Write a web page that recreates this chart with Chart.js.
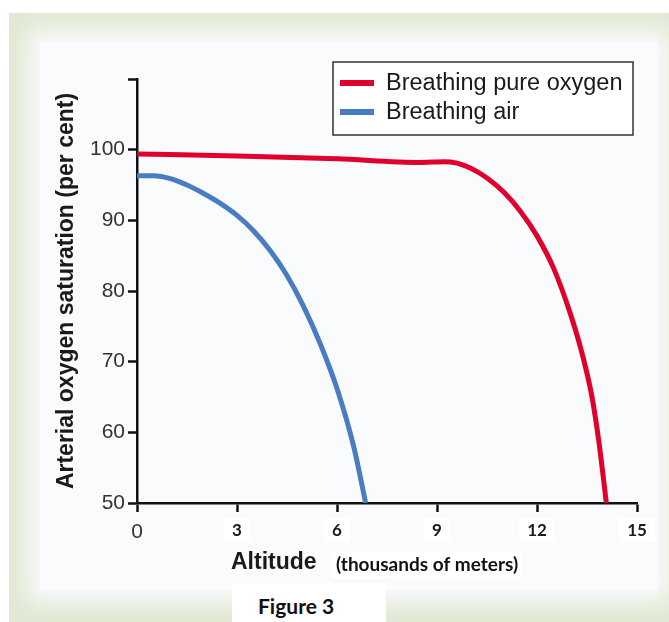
<!DOCTYPE html>
<html>
<head>
<meta charset="utf-8">
<script src="https://cdn.jsdelivr.net/npm/chart.js@4.4.1/dist/chart.umd.min.js"></script>
<style>
  html, body { margin: 0; padding: 0; background: #fff; }
  #wrap { position: relative; width: 669px; height: 622px; overflow: hidden; }
  #frame { position: absolute; left: 9px; top: 13px; right: 0; bottom: 0; background: #e1e8d3; }
  #panel { position: absolute; left: 40px; top: 42px; width: 618px; height: 548px; background: #f9fbfd;
           box-shadow: 0 0 22px 12px #f9fbfd; }
  #caption { position: absolute; left: 232px; top: 583px; width: 128px; height: 39px; padding-left: 26px;
             background: #fff; font: bold 21px Lato, "Open Sans", sans-serif; color: #111; line-height: 45px; }
  canvas { position: absolute; left: 0; top: 0; }
</style>
</head>
<body>
<div id="wrap">
  <div id="frame"></div>
  <div id="panel"></div>
  <div id="caption">Figure 3</div>
  <canvas id="chart" width="669" height="622"></canvas>
</div>
<script>
// values (altitude in thousands of meters, saturation in %)
const oxygenAltitude = [0, 3, 6, 8.5, 9.2, 9.6, 10.0, 10.5, 11.0, 11.5, 12.0, 12.5, 13.0, 13.35, 13.65, 13.85, 14.0, 14.08];
const oxygenSaturation = [99.4, 99.1, 98.7, 98.2, 98.3, 98.1, 97.4, 96.0, 94.0, 91.3, 87.8, 83.2, 76.8, 71.2, 65.0, 58.9, 53.2, 50];
const airAltitude = [0, 0.5, 1.0, 1.5, 2.0, 2.5, 3.0, 3.5, 4.0, 4.5, 5.0, 5.5, 6.0, 6.5, 6.86];
const airSaturation = [96.3, 96.3, 95.9, 95.0, 93.8, 92.4, 90.7, 88.5, 85.7, 82.2, 77.8, 72.5, 66.2, 58.0, 50];

const seriesLabels = ['Breathing pure oxygen', 'Breathing air'];
const xTicks = [0, 3, 6, 9, 12, 15];
const yTicks = [50, 60, 70, 80, 90, 100];

const toPoints = (xs, ys) => xs.map((x, i) => ({ x: x, y: ys[i] }));

// legend box drawn inside the plot like the original
const boxLegend = {
  id: 'boxLegend',
  afterDraw(chart) {
    const ctx = chart.ctx;
    ctx.save();
    ctx.fillStyle = '#fff';
    ctx.fillRect(333, 62, 300, 73);
    ctx.strokeStyle = '#333';
    ctx.lineWidth = 1.5;
    ctx.strokeRect(333, 62, 300, 73);
    ctx.font = '23.5px "Liberation Sans", Arial, sans-serif';
    ctx.textBaseline = 'middle';
    chart.data.datasets.forEach((ds, i) => {
      const y = 83 + i * 29;
      ctx.strokeStyle = ds.borderColor;
      ctx.lineWidth = 6;
      ctx.beginPath();
      ctx.moveTo(340, y);
      ctx.lineTo(374, y);
      ctx.stroke();
      ctx.fillStyle = '#1a1a1a';
      ctx.fillText(ds.label, 386, y + 1);
    });
    ctx.restore();
  }
};

// x title uses two fonts, so it is drawn by hand
const xTitle = {
  id: 'xTitle',
  afterDraw(chart) {
    const ctx = chart.ctx;
    ctx.save();
    ctx.textBaseline = 'middle';
    ctx.fillStyle = '#1a1a1a';
    ctx.font = 'bold 23px "Liberation Sans", Arial, sans-serif';
    ctx.fillText('Altitude', 231, 563);
    ctx.font = 'bold 19px Lato, "Open Sans", sans-serif';
    const w = ctx.measureText('(thousands of meters)').width;
    ctx.fillStyle = '#fff';
    ctx.fillRect(332, 551, w + 8, 28);
    ctx.fillStyle = '#111';
    ctx.fillText('(thousands of meters)', 336, 565);
    ctx.restore();
  }
};

new Chart(document.getElementById('chart'), {
  type: 'line',
  data: {
    datasets: [{
      label: seriesLabels[0],
      data: toPoints(oxygenAltitude, oxygenSaturation),
      borderColor: '#e0002d',
      borderWidth: 5,
      pointRadius: 0,
      cubicInterpolationMode: 'monotone',
      fill: false
    }, {
      label: seriesLabels[1],
      data: toPoints(airAltitude, airSaturation),
      borderColor: '#4a7cc1',
      borderWidth: 5,
      pointRadius: 0,
      cubicInterpolationMode: 'monotone',
      fill: false
    }]
  },
  options: {
    responsive: false,
    animation: false,
    layout: { padding: { left: 0, right: 32, top: 79, bottom: 0 } },
    plugins: {
      legend: { display: false },
      tooltip: { enabled: false }
    },
    scales: {
      x: {
        type: 'linear',
        min: 0,
        max: 15,
        afterFit: (scale) => { scale.height = 119; },
        afterBuildTicks: (scale) => { scale.ticks = xTicks.map(v => ({ value: v })); },
        border: { color: '#111', width: 2.5 },
        grid: { drawOnChartArea: false, drawTicks: true, tickLength: 9, color: '#111', tickWidth: 2.5 },
        ticks: {
          padding: 8,
          maxRotation: 0,
          color: (c) => c.index === 0 ? '#333' : '#1a1a1a',
          font: (c) => c.index === 0
            ? { family: '"Liberation Sans", Arial, sans-serif', size: 21 }
            : { family: 'Lato, "Open Sans", sans-serif', size: 17, weight: 'bold' },
          showLabelBackdrop: (c) => c.index > 0,
          backdropColor: '#fff',
          backdropPadding: { top: 2, bottom: 2, left: 8, right: 8 }
        }
      },
      y: {
        min: 50,
        max: 110,
        afterFit: (scale) => { scale.width = 137; },
        afterBuildTicks: (scale) => { scale.ticks = yTicks.concat([110]).map(v => ({ value: v })); },
        border: { color: '#111', width: 2.5 },
        grid: { drawOnChartArea: false, drawTicks: true, tickLength: 9, color: '#111', tickWidth: 2.5 },
        ticks: {
          padding: 3,
          color: '#333',
          font: { family: '"Liberation Sans", Arial, sans-serif', size: 21 },
          callback: (v) => v > 100 ? '' : v
        },
        title: {
          display: true,
          text: 'Arterial oxygen saturation (per cent)',
          color: '#1a1a1a',
          font: { family: '"Liberation Sans", Arial, sans-serif', size: 23, weight: 'bold' },
          padding: { top: 53, bottom: 0 }
        }
      }
    }
  },
  plugins: [boxLegend, xTitle]
});
</script>
</body>
</html>
